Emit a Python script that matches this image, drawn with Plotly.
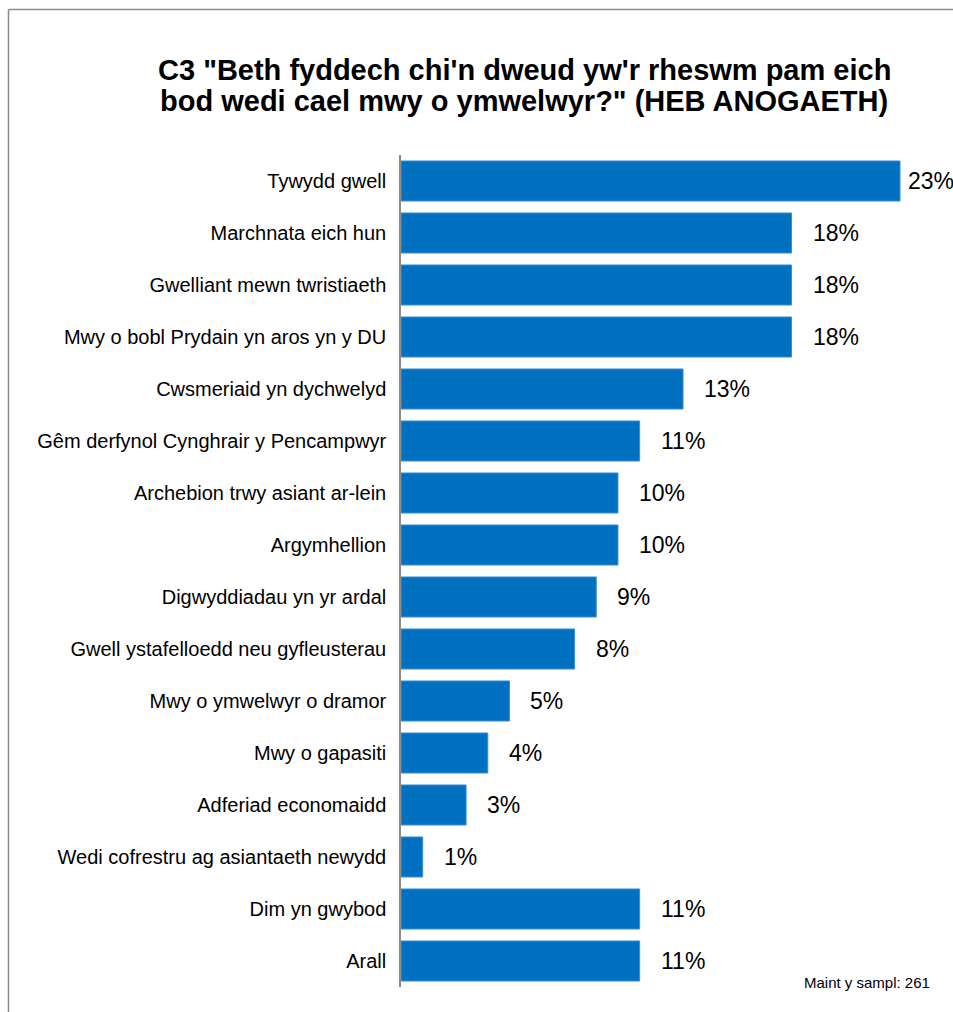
import plotly.graph_objects as go

categories = [
    "Tywydd gwell",
    "Marchnata eich hun",
    "Gwelliant mewn twristiaeth",
    "Mwy o bobl Prydain yn aros yn y DU",
    "Cwsmeriaid yn dychwelyd",
    "Gêm derfynol Cynghrair y Pencampwyr",
    "Archebion trwy asiant ar-lein",
    "Argymhellion",
    "Digwyddiadau yn yr ardal",
    "Gwell ystafelloedd neu gyfleusterau",
    "Mwy o ymwelwyr o dramor",
    "Mwy o gapasiti",
    "Adferiad economaidd",
    "Wedi cofrestru ag asiantaeth newydd",
    "Dim yn gwybod",
    "Arall",
]
values = [23, 18, 18, 18, 13, 11, 10, 10, 9, 8, 5, 4, 3, 1, 11, 11]
labels = [f"{v}%" for v in values]

title_lines = [
    "C3 \"Beth fyddech chi'n dweud yw'r rheswm pam eich",
    "bod wedi cael mwy o ymwelwyr?\" (HEB ANOGAETH)",
]
sample_text = "Maint y sampl: 261"

W, H = 953, 1012
L, R, T, B = 401, 0, 155, 25
px_per_unit = (900 - 401) / 23.0
xmax = (W - L - R) / px_per_unit
plot_w = W - L - R
plot_h = H - T - B

def px_to_paper_x(px):
    return (px - L) / plot_w

def px_to_paper_y(py):
    return 1 - (py - T) / plot_h

FONT = "Liberation Sans, Arial"

fig = go.Figure()
fig.add_trace(go.Bar(
    x=values,
    y=categories,
    orientation="h",
    marker=dict(color="#0070C0", line=dict(color="#3d8fd0", width=1)),
    hoverinfo="skip",
))

# value labels
offset = 19 / px_per_unit
for c, v, lab in zip(categories, values, labels):
    lx = min(v + offset, 23 + 6 / px_per_unit)
    fig.add_annotation(
        x=lx, y=c, xref="x", yref="y", text=lab, showarrow=False,
        xanchor="left", yanchor="middle",
        font=dict(family=FONT, size=23, color="#000000"),
    )

# title (two lines as separate annotations for tight line spacing)
for i, line in enumerate(title_lines):
    fig.add_annotation(
        x=px_to_paper_x(524), y=px_to_paper_y(70 + 31 * i), xref="paper", yref="paper",
        text=line, showarrow=False, xanchor="center", yanchor="middle",
        font=dict(family=FONT, size=29, color="#000000", weight="bold"),
    )

fig.add_annotation(
    x=px_to_paper_x(932), y=px_to_paper_y(982), xref="paper", yref="paper",
    text=sample_text, showarrow=False, xanchor="right", yanchor="middle",
    font=dict(family=FONT, size=15, color="#000000"),
)

# outer border (top and left edges)
fig.add_shape(type="line", xref="paper", yref="paper",
              x0=px_to_paper_x(8.5), x1=px_to_paper_x(960),
              y0=px_to_paper_y(9.5), y1=px_to_paper_y(9.5),
              line=dict(color="#8c8c8c", width=1.5))
fig.add_shape(type="line", xref="paper", yref="paper",
              x0=px_to_paper_x(8.5), x1=px_to_paper_x(8.5),
              y0=px_to_paper_y(9.5), y1=px_to_paper_y(1020),
              line=dict(color="#8c8c8c", width=1.5))

fig.update_layout(
    width=W, height=H,
    margin=dict(l=L, r=R, t=T, b=B, autoexpand=False),
    paper_bgcolor="white", plot_bgcolor="white",
    bargap=0.23,
    showlegend=False,
    xaxis=dict(range=[0, xmax], visible=False, fixedrange=True),
    yaxis=dict(
        autorange="reversed", showgrid=False, zeroline=False,
        showline=True, linecolor="#8c8c8c", linewidth=1.5,
        ticks="", ticklabelstandoff=9,
        tickfont=dict(family=FONT, size=20, color="#000000"),
        fixedrange=True,
    ),
)

fig.write_html(
    "out.html",
    config={"displayModeBar": False},
    post_script="document.body.style.margin='0';document.body.style.overflow='hidden';",
)
